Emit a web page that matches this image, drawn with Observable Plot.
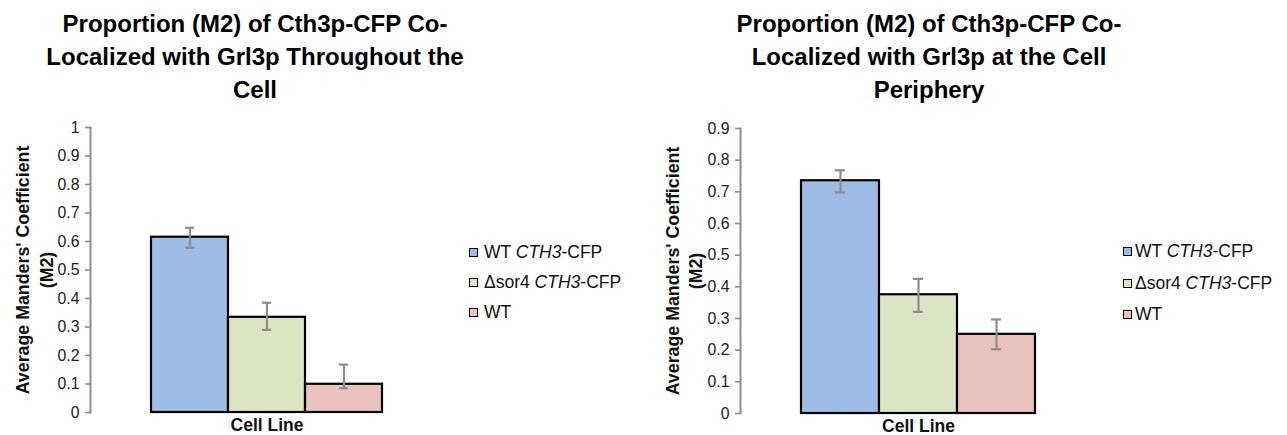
<!DOCTYPE html>
<html>
<head>
<meta charset="utf-8">
<script src="https://cdn.jsdelivr.net/npm/d3@7"></script>
<script src="https://cdn.jsdelivr.net/npm/@observablehq/plot@0.6"></script>
<style>
  html, body { margin: 0; padding: 0; background: #fff; }
  body { font-family: "Liberation Sans", Arial, sans-serif; color: #000; }
  #wrap { position: relative; width: 1287px; height: 435px; overflow: hidden; background: #fff; }
  .panel { position: absolute; top: 0; }
  .title { position: absolute; width: 520px; text-align: center; font-weight: bold; font-size: 24px; line-height: 33px; white-space: nowrap; }
  .legend { position: absolute; font-size: 17.5px; white-space: nowrap; color: #111; }
  .legend .row { display: flex; align-items: center; }
  .legend .sw { width: 7px; height: 7px; border: 1.8px solid #000; box-sizing: content-box; flex: none; }
</style>
</head>
<body>
<div id="wrap"></div>
<script>
// ---- data ----
const series = ["WT CTH3-CFP", "Δsor4 CTH3-CFP", "WT"];
const seriesHtml = ["WT <i>CTH3</i>-CFP", "Δsor4 <i>CTH3</i>-CFP", "WT"];
const colors = ["#9dbde6", "#dbe5c3", "#eac2be"];

const titleWhole = ["Proportion (M2) of Cth3p-CFP Co-", "Localized with Grl3p Throughout the", "Cell"];
const titlePeriphery = ["Proportion (M2) of Cth3p-CFP Co-", "Localized with Grl3p at the Cell", "Periphery"];

const yLabel = "Average Manders' Coefficient\n(M2)";
const xLabel = "Cell Line";

const wholeMean = [0.615, 0.334, 0.099];
const wholeLow  = [0.578, 0.290, 0.085];
const wholeHigh = [0.648, 0.385, 0.168];
const wholeTicks = [0, 0.1, 0.2, 0.3, 0.4, 0.5, 0.6, 0.7, 0.8, 0.9, 1];

const periMean = [0.735, 0.375, 0.250];
const periLow  = [0.698, 0.321, 0.203];
const periHigh = [0.768, 0.425, 0.297];
const periTicks = [0, 0.1, 0.2, 0.3, 0.4, 0.5, 0.6, 0.7, 0.8, 0.9];

// ---- chart ----
const axisGray = "#8e8e8e";
const errGray = "#8c8c8c";

function chart({means, lows, highs, ticks, width, marginLeft, marginRight, marginTop, marginBottom, labelDx, labelLineHeight}) {
  const data = series.map((s, i) => ({series: s, value: means[i], lo: lows[i], hi: highs[i]}));
  return Plot.plot({
    width, height: 435,
    marginTop, marginBottom, marginLeft, marginRight,
    style: {fontFamily: "'Liberation Sans', Arial, sans-serif", background: "transparent", color: "#222", overflow: "visible"},
    x: {domain: series, paddingInner: 0, paddingOuter: 0.77, axis: null},
    y: {domain: [0, ticks[ticks.length - 1]]},
    color: {domain: series, range: colors},
    marks: [
      Plot.frame({anchor: "left", stroke: axisGray, strokeWidth: 2}),
      Plot.axisY({ticks, tickSize: 5, tickPadding: 6, fontSize: 15.8, stroke: axisGray, strokeWidth: 1.6, fill: "#222", tickFormat: d3.format("~g"), label: null}),
      Plot.barY(data, {x: "series", y: "value", fill: "series", stroke: "#000", strokeWidth: 2.2}),
      Plot.ruleX(data, {x: "series", y1: "lo", y2: "hi", stroke: errGray, strokeWidth: 2.2}),
      Plot.tickY(data, {x: "series", y: "lo", stroke: errGray, strokeWidth: 2.2, inset: 34}),
      Plot.tickY(data, {x: "series", y: "hi", stroke: errGray, strokeWidth: 2.2, inset: 34}),
      Plot.text([yLabel], {frameAnchor: "left", rotate: -90, dx: labelDx, textAnchor: "middle", lineAnchor: "middle", fontWeight: "bold", fontSize: 17.8, lineHeight: labelLineHeight, fill: "#111"}),
      Plot.text([xLabel], {frameAnchor: "bottom", dy: 13, lineAnchor: "middle", fontWeight: "bold", fontSize: 17.5, fill: "#111"})
    ]
  });
}

const wrap = document.getElementById("wrap");

function addPanel(svg, left) {
  const d = document.createElement("div");
  d.className = "panel";
  d.style.left = left + "px";
  d.appendChild(svg);
  wrap.appendChild(d);
}

function addTitle(lines, center) {
  const t = document.createElement("div");
  t.className = "title";
  t.style.left = (center - 260) + "px";
  t.style.top = "7px";
  t.innerHTML = lines.join("<br>");
  wrap.appendChild(t);
}

function addLegend(left, top, lineHeight, gap) {
  const l = document.createElement("div");
  l.className = "legend";
  l.style.left = left + "px";
  l.style.top = top + "px";
  seriesHtml.forEach((h, i) => {
    const r = document.createElement("div");
    r.className = "row";
    r.style.height = lineHeight + "px";
    const sw = document.createElement("span");
    sw.className = "sw";
    sw.style.background = colors[i];
    sw.style.marginRight = gap + "px";
    const tx = document.createElement("span");
    tx.innerHTML = h;
    r.appendChild(sw);
    r.appendChild(tx);
    l.appendChild(r);
  });
  wrap.appendChild(l);
}

addPanel(chart({means: wholeMean, lows: wholeLow, highs: wholeHigh, ticks: wholeTicks,
  width: 643, marginLeft: 90, marginRight: 200, marginTop: 127, marginBottom: 23, labelDx: -57, labelLineHeight: 1.37}), 0);
addPanel(chart({means: periMean, lows: periLow, highs: periHigh, ticks: periTicks,
  width: 644, marginLeft: 97, marginRight: 191, marginTop: 128, marginBottom: 22, labelDx: -57, labelLineHeight: 1.3}), 643);

addTitle(titleWhole, 255);
addTitle(titlePeriphery, 929);

addLegend(469, 237, 30, 6);
addLegend(1123, 236, 31.5, 3);
</script>
</body>
</html>
